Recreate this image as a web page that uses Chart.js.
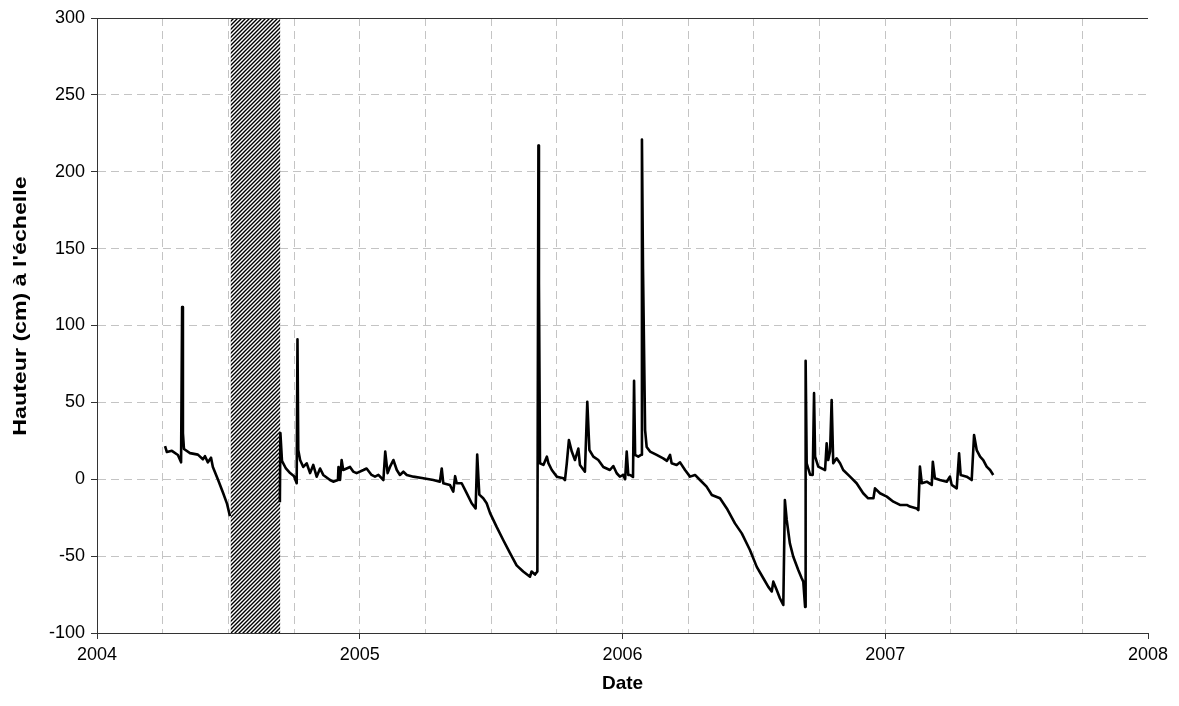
<!DOCTYPE html>
<html>
<head>
<meta charset="utf-8">
<script src="https://cdn.jsdelivr.net/npm/chart.js@4.4.1/dist/chart.umd.min.js"></script>
<style>
  html, body { margin: 0; padding: 0; background: #fff; }
  #wrap { width: 1179px; height: 706px; }
</style>
</head>
<body>
<div id="wrap"><canvas id="c"></canvas></div>
<script>
// ── DATA ────────────────────────────────────────────────────────────────────
// date as decimal year, level in cm (null = no record)
const dates = [
  2004.259, 2004.266, 2004.285, 2004.308, 2004.320, 2004.324, 2004.327, 2004.331, 2004.354, 2004.384,
  2004.403, 2004.411, 2004.422, 2004.434, 2004.441, 2004.461, 2004.480, 2004.495, 2004.506,
  2004.600,
  2004.696, 2004.698, 2004.704, 2004.719, 2004.735, 2004.750, 2004.760, 2004.763, 2004.766, 2004.773,
  2004.785, 2004.798, 2004.811, 2004.823, 2004.836, 2004.849, 2004.861, 2004.887, 2004.899, 2004.917,
  2004.919, 2004.925, 2004.931, 2004.937, 2004.963, 2004.975, 2004.988, 2005.014, 2005.026, 2005.045,
  2005.058, 2005.071, 2005.090, 2005.097, 2005.106, 2005.115, 2005.128, 2005.141, 2005.153, 2005.166,
  2005.179, 2005.204, 2005.242, 2005.280, 2005.305, 2005.312, 2005.318, 2005.343, 2005.356, 2005.363,
  2005.369, 2005.388, 2005.407, 2005.426, 2005.441, 2005.447, 2005.455, 2005.470, 2005.483, 2005.496,
  2005.521, 2005.546, 2005.572, 2005.597, 2005.622, 2005.648, 2005.654, 2005.667, 2005.676, 2005.680,
  2005.682, 2005.686, 2005.699, 2005.712, 2005.718, 2005.731, 2005.750, 2005.775, 2005.781, 2005.788,
  2005.796, 2005.807, 2005.819, 2005.832, 2005.838, 2005.857, 2005.866, 2005.874, 2005.889, 2005.908,
  2005.927, 2005.952, 2005.965, 2005.978, 2005.990, 2006.003, 2006.010, 2006.016, 2006.022, 2006.029,
  2006.040, 2006.044, 2006.048, 2006.060, 2006.072, 2006.074, 2006.078, 2006.086, 2006.092, 2006.105,
  2006.130, 2006.155, 2006.169, 2006.181, 2006.187, 2006.206, 2006.219, 2006.238, 2006.257, 2006.276,
  2006.295, 2006.320, 2006.340, 2006.371, 2006.397, 2006.428, 2006.454, 2006.485, 2006.511, 2006.536,
  2006.555, 2006.568, 2006.574, 2006.587, 2006.599, 2006.612, 2006.618, 2006.625, 2006.637, 2006.650,
  2006.669, 2006.682, 2006.688, 2006.695, 2006.697, 2006.701, 2006.714, 2006.724, 2006.729, 2006.733,
  2006.745, 2006.758, 2006.771, 2006.777, 2006.783, 2006.790, 2006.796, 2006.802, 2006.815, 2006.828,
  2006.840, 2006.866, 2006.891, 2006.916, 2006.935, 2006.955, 2006.961, 2006.980, 2007.006, 2007.031,
  2007.056, 2007.082, 2007.094, 2007.120, 2007.126, 2007.132, 2007.139, 2007.158, 2007.177, 2007.181,
  2007.189, 2007.208, 2007.234, 2007.246, 2007.253, 2007.272, 2007.281, 2007.287, 2007.310, 2007.329,
  2007.338, 2007.348, 2007.361, 2007.373, 2007.386, 2007.399, 2007.411
];
const levels = [
  21.6, 17.7, 18.5, 15.8, 11, 112, 30, 19.7, 17, 16,
  13, 15, 11, 14, 8, -0.5, -9, -16, -24,
  null,
  -15, 30, 12, 7, 4, 2, -2.6, 91, 19, 12.5,
  8, 10.4, 4, 9.3, 1.7, 7, 2.8, -0.5, -1.6, -0.5,
  8, -0.5, 12.5, 6, 8, 5, 4, 6, 7, 2.8,
  1.7, 2.8, -0.5, 18, 4, 8, 12.5, 6, 2.8, 4.9,
  2.8, 1.7, 0.6, -0.5, -1.6, 7, -2.6, -3.7, -8, 2,
  -2.6, -2.6, -9, -15.6, -19, 16, -10, -12.4, -15.6, -22,
  -31, -39.5, -48, -56, -60, -63.4, -60, -62, -60, 217,
  128, 10.4, 9.3, 14.7, 10.5, 6, 1.7, 0.6, -0.5, 10.4,
  25.5, 18, 12.5, 20, 9.3, 4.9, 50.4, 19, 14.7, 12.5,
  8, 6, 8.6, 3.9, 1.7, 2.8, 0, 18, 2.8, 2.8,
  1.5, 64, 15.8, 14.7, 16, 221, 137, 32, 21, 18,
  15.8, 13.6, 12, 15.8, 10.4, 9.3, 11, 6, 1.7, 2.8,
  -0.5, -4.8, -10.2, -12.4, -19, -28.7, -35.2, -46, -57, -64.4,
  -70, -73, -66.6, -72, -77.4, -81.8, -13.5, -26.5, -41.7, -50.4,
  -59, -64.4, -66.6, -83, 77, 10.4, 3, 2.8, 56, 14.7,
  8.2, 7.1, 6, 23.4, 12.5, 18, 51.5, 10.4, 13.6, 10.4,
  6, 1.7, -2.6, -9.1, -12.4, -12.4, -5.9, -9.1, -11.3, -14.6,
  -16.7, -16.7, -17.8, -19, -20, 8.2, -2.6, -1.6, -3.7, 11.4,
  0.6, -0.5, -1.6, 1.7, -3.7, -5.9, 16.8, 2.8, 1.7, -0.5,
  28.8, 19, 14.7, 12.5, 8.2, 6, 2.8
];
// period without record (hatched)
const gapStart = 2004.509;
const gapEnd = 2004.697;

const yTitle = "Hauteur (cm) à l'échelle";
const xTitle = 'Date';

// ── HATCH PATTERN ───────────────────────────────────────────────────────────
function hatchPattern(ctx) {
  const c = document.createElement('canvas');
  c.width = c.height = 4;
  const g = c.getContext('2d');
  g.fillStyle = '#fff';
  g.fillRect(0, 0, 4, 4);
  g.strokeStyle = '#000';
  g.lineWidth = 1.4;
  g.beginPath();
  g.moveTo(0, 4); g.lineTo(4, 0);
  g.moveTo(-1, 1); g.lineTo(1, -1);
  g.moveTo(3, 5); g.lineTo(5, 3);
  g.stroke();
  return ctx.createPattern(c, 'repeat');
}

const FONT = "'Liberation Sans', Arial, sans-serif";
const GRID = '#c4c4c4';

const overlays = {
  id: 'overlays',
  beforeDatasetsDraw(chart) {
    const { ctx, chartArea, scales: { x } } = chart;
    const x0 = x.getPixelForValue(gapStart);
    const x1 = x.getPixelForValue(gapEnd);
    ctx.save();
    ctx.fillStyle = hatchPattern(ctx);
    ctx.fillRect(x0, chartArea.top + 1, x1 - x0, chartArea.bottom - chartArea.top - 1);
    ctx.restore();
  },
  afterDraw(chart) {
    const { ctx, chartArea } = chart;
    ctx.save();
    // solid top edge of the plot
    ctx.strokeStyle = '#333';
    ctx.lineWidth = 1;
    ctx.beginPath();
    ctx.moveTo(chartArea.left, chartArea.top + 0.5);
    ctx.lineTo(chartArea.right, chartArea.top + 0.5);
    ctx.stroke();
    // y axis title, slightly stretched like the original
    ctx.translate(21, 306);
    ctx.rotate(-Math.PI / 2);
    ctx.scale(1.22, 1);
    ctx.fillStyle = '#000';
    ctx.font = 'bold 19px ' + FONT;
    ctx.textAlign = 'center';
    ctx.textBaseline = 'middle';
    ctx.fillText(yTitle, 0, 0);
    ctx.restore();
  }
};

// ── CHART ───────────────────────────────────────────────────────────────────
new Chart(document.getElementById('c'), {
  type: 'line',
  data: {
    datasets: [{
      data: dates.map((d, i) => ({ x: d, y: levels[i] })),
      borderColor: '#000',
      borderWidth: 2.6,
      borderJoinStyle: 'round',
      pointRadius: 0,
      tension: 0,
      spanGaps: false,
      fill: false
    }]
  },
  options: {
    responsive: true,
    maintainAspectRatio: false,
    animation: false,
    layout: { padding: { top: 18, right: 31, left: 0, bottom: 0 } },
    plugins: { legend: { display: false }, tooltip: { enabled: false } },
    scales: {
      x: {
        type: 'linear',
        min: 2004,
        max: 2008,
        afterFit: s => { s.height = 73; },
        ticks: {
          stepSize: 0.25,
          autoSkip: false,
          maxRotation: 0,
          padding: 5,
          color: '#000',
          font: { family: FONT, size: 18 },
          callback: v => Number.isInteger(v) ? String(v) : ''
        },
        grid: {
          color: c => (c.tick && c.tick.value === 2008) ? 'rgba(0,0,0,0)' : GRID,
          tickLength: 6,
          tickColor: c => (c.tick && Number.isInteger(c.tick.value)) ? '#333' : 'rgba(0,0,0,0)',
          tickBorderDash: []
        },
        border: { color: '#333', width: 1, dash: [8, 5] },
        title: {
          display: true,
          text: xTitle,
          color: '#000',
          font: { family: FONT, size: 19, weight: 'bold' },
          padding: { top: 0, bottom: 11 }
        }
      },
      y: {
        min: -100,
        max: 300,
        afterFit: s => { s.width = 97; },
        ticks: {
          stepSize: 50,
          padding: 6,
          color: '#000',
          font: { family: FONT, size: 18 }
        },
        grid: {
          color: c => (c.tick && c.tick.value === 300) ? 'rgba(0,0,0,0)' : GRID,
          tickLength: 6,
          tickColor: '#333',
          tickBorderDash: []
        },
        border: { color: '#333', width: 1, dash: [8, 5] }
      }
    }
  },
  plugins: [overlays]
});
</script>
</body>
</html>
